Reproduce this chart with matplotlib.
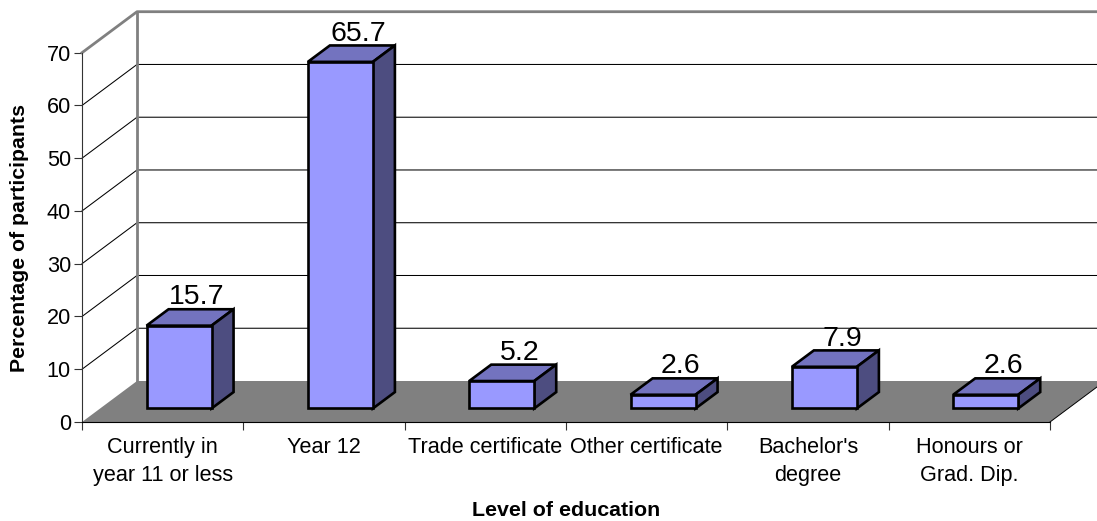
import matplotlib
matplotlib.use("Agg")
import matplotlib.pyplot as plt
from matplotlib.patches import Polygon

plt.rcParams['font.family'] = ['Liberation Sans', 'DejaVu Sans']

categories = ["Currently in\nyear 11 or less", "Year 12", "Trade certificate",
              "Other certificate", "Bachelor's\ndegree", "Honours or\nGrad. Dip."]
values = [15.7, 65.7, 5.2, 2.6, 7.9, 2.6]
y_ticks = [0, 10, 20, 30, 40, 50, 60, 70]

# fake 3d: depth 1 = back wall, given in category / value units
depth_x = 55 / 161.3
depth_y = 41 / 5.276
bar_width = 0.403
bar_front = 0.33
bar_back = 0.73

W, H = 1097, 521
fig = plt.figure(figsize=(W / 100, H / 100), dpi=100)
ax = fig.add_axes([82 / W, 1 - 422 / H, 968 / W, 369.3 / H])
n = len(categories)
ax.set_xlim(0, n)
ax.set_ylim(0, 70)


def pr(x, y, d):
    return (x + d * depth_x, y + d * depth_y)


def poly(pts, **kw):
    ax.add_patch(Polygon(pts, closed=True, clip_on=False, **kw))


# floor
poly([pr(0, 0, 0), pr(n, 0, 0), pr(n, 0, 1), pr(0, 0, 1)], fc='#808080', ec='none', zorder=1)
ax.plot(*zip(pr(n, 0, 0), pr(n, 0, 1)), color='black', lw=0.7, clip_on=False, zorder=1.5)

# gridlines on the side and the back wall
for t in y_ticks[1:-1]:
    ax.plot(*zip(pr(0, t, 0), pr(0, t, 1), pr(n, t, 1)), color='black', lw=0.75, clip_on=False, zorder=1.5)

# wall edges
ax.plot(*zip(pr(0, 70, 0), pr(0, 70, 1), pr(n, 70, 1)), color='#808080', lw=2, clip_on=False, zorder=2)
ax.plot(*zip(pr(0, 0, 1), pr(0, 70, 1)), color='#808080', lw=2, clip_on=False, zorder=2)

# bars
for i, v in enumerate(values):
    x0 = i + 0.5 - bar_width / 2 - 0.011
    x1 = x0 + bar_width
    edge = dict(ec='black', lw=1.9, joinstyle='miter', zorder=3)
    poly([pr(x0, v, bar_front), pr(x1, v, bar_front), pr(x1, v, bar_back), pr(x0, v, bar_back)], fc='#7373BF', **edge)
    poly([pr(x1, 0, bar_front), pr(x1, 0, bar_back), pr(x1, v, bar_back), pr(x1, v, bar_front)], fc='#4D4D80', **edge)
    poly([pr(x0, 0, bar_front), pr(x1, 0, bar_front), pr(x1, v, bar_front), pr(x0, v, bar_front)], fc='#9999FF', **edge)
    lx, ly = pr((x0 + x1) / 2, v, bar_back)
    ax.annotate(f"{v}", (lx, ly), xytext=(-3, 3.5), textcoords='offset points', ha='center', va='baseline',
                fontsize=20.5, color='black', zorder=4, annotation_clip=False)

for s in ('top', 'right'):
    ax.spines[s].set_visible(False)
ax.spines['left'].set_color('#333333')
ax.spines['bottom'].set_color('black')
ax.patch.set_visible(False)
ax.spines['left'].set_zorder(2.5)
ax.spines['bottom'].set_zorder(2.5)

ax.set_yticks(y_ticks)
ax.tick_params(axis='y', labelsize=15.6, length=6, width=0.8, pad=2, color='#333333')
ax.set_xticks(range(n + 1))
ax.set_xticklabels([])
ax.tick_params(axis='x', which='major', length=6, width=0.8, color='#333333')
ax.set_xticks([i + 0.5 for i in range(n)], minor=True)
ax.set_xticklabels(categories, minor=True, fontsize=15.6, linespacing=1.45)
ax.tick_params(axis='x', which='minor', length=0, pad=10.5)

fig.text(566 / W, 1 - 516 / H, "Level of education", fontsize=15.4, fontweight='bold', ha='center', va='baseline')
fig.text(20 / W, 1 - 237.5 / H, "Percentage of participants", fontsize=15.3, fontweight='bold',
         rotation=90, ha='center', va='center')

fig.savefig("out.png", dpi=100)
